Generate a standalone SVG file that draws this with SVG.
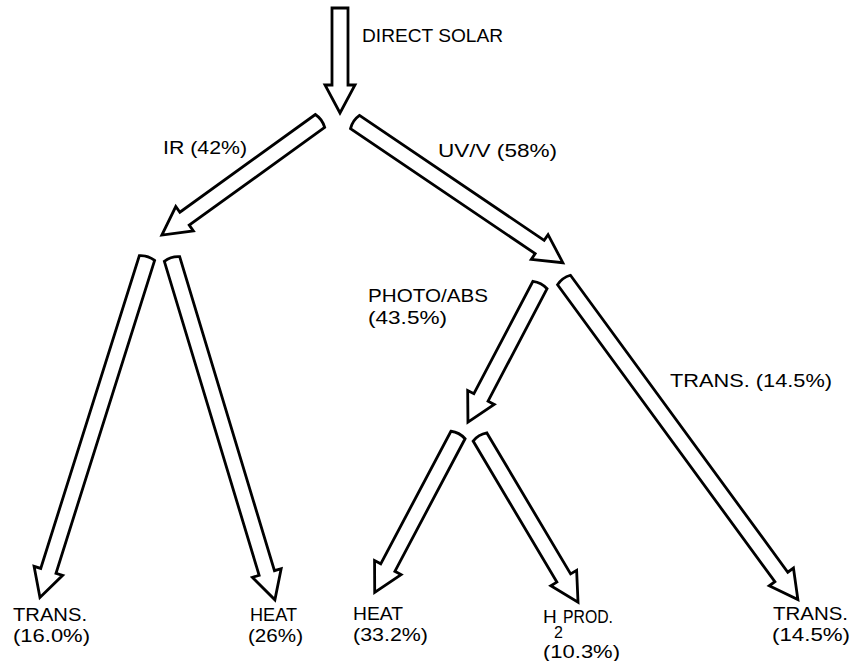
<svg xmlns="http://www.w3.org/2000/svg" width="850" height="661" viewBox="0 0 850 661">
<style>
.a{fill:#fff;stroke:#000;stroke-width:2.8;stroke-linejoin:miter}
text{font-family:"Liberation Sans",Arial,sans-serif;font-size:19px;fill:#000}
text.s{font-size:16px}
</style>
<rect width="850" height="661" fill="#fff"/>
<g id="connectors">
<path id="a-direct" class="a" transform="translate(340,8) rotate(90)" d="M0,-8 L77,-8 L77,-15 L105,0 L77,15 L77,8 L0,8 Z"/>
<path id="a-ir" class="a" transform="translate(320,121) rotate(144.2)" d="M0,-8 L167,-8 L167,-15 L195,0 L167,15 L167,8 L0,8 Q-3,0 0,-8 Z"/>
<path id="a-uv" class="a" transform="translate(355,122) rotate(34.1)" d="M0,-8 L223,-8 L223,-15 L251,0 L223,15 L223,8 L0,8 Q-3,0 0,-8 Z"/>
<path id="a-ir-trans" class="a" transform="translate(147,258) rotate(107.5)" d="M0,-8 L328,-8 L328,-15 L356,0 L328,15 L328,8 L0,8 Q-3,0 0,-8 Z"/>
<path id="a-ir-heat" class="a" transform="translate(172,259) rotate(73.2)" d="M0,-8 L328,-8 L328,-15 L356,0 L328,15 L328,8 L0,8 Q-3,0 0,-8 Z"/>
<path id="a-photo" class="a" transform="translate(540,285) rotate(117.7)" d="M0,-8 L127,-8 L127,-15 L155,0 L127,15 L127,8 L0,8 Q-3,0 0,-8 Z"/>
<path id="a-uv-trans" class="a" transform="translate(564,280) rotate(53.8)" d="M0,-8 L368,-8 L368,-15 L396,0 L368,15 L368,8 L0,8 Q-3,0 0,-8 Z"/>
<path id="a-photo-heat" class="a" transform="translate(458,435) rotate(117.9)" d="M0,-8 L150,-8 L150,-15 L178,0 L150,15 L150,8 L0,8 Q-3,0 0,-8 Z"/>
<path id="a-h2" class="a" transform="translate(480,437) rotate(59.3)" d="M0,-8 L164,-8 L164,-15 L192,0 L164,15 L164,8 L0,8 Q-3,0 0,-8 Z"/>
</g>
<g id="n-direct"><text x="362" y="42" textLength="141" lengthAdjust="spacingAndGlyphs">DIRECT SOLAR</text></g>
<g id="n-ir"><text x="163" y="154" textLength="84" lengthAdjust="spacingAndGlyphs">IR (42%)</text></g>
<g id="n-uv"><text x="438" y="157" textLength="119" lengthAdjust="spacingAndGlyphs">UV/V (58%)</text></g>
<g id="n-photo"><text x="368" y="302" textLength="120" lengthAdjust="spacingAndGlyphs">PHOTO/ABS</text><text x="368" y="324" textLength="79" lengthAdjust="spacingAndGlyphs">(43.5%)</text></g>
<g id="n-trans-mid"><text x="670" y="387" textLength="162" lengthAdjust="spacingAndGlyphs">TRANS. (14.5%)</text></g>
<g id="n-trans-left"><text x="13" y="621" textLength="74" lengthAdjust="spacingAndGlyphs">TRANS.</text><text x="13" y="642" textLength="77" lengthAdjust="spacingAndGlyphs">(16.0%)</text></g>
<g id="n-heat-ir"><text x="250" y="621" textLength="47" lengthAdjust="spacingAndGlyphs">HEAT</text><text x="248" y="642" textLength="55" lengthAdjust="spacingAndGlyphs">(26%)</text></g>
<g id="n-heat-photo"><text x="353" y="620" textLength="50" lengthAdjust="spacingAndGlyphs">HEAT</text><text x="353" y="641" textLength="75" lengthAdjust="spacingAndGlyphs">(33.2%)</text></g>
<g id="n-h2"><text x="543" y="623">H</text><text class="s" x="554" y="638">2</text><text x="563" y="623" textLength="50" lengthAdjust="spacingAndGlyphs">PROD.</text><text x="543" y="658" textLength="77" lengthAdjust="spacingAndGlyphs">(10.3%)</text></g>
<g id="n-trans-right"><text x="773" y="620" textLength="75" lengthAdjust="spacingAndGlyphs">TRANS.</text><text x="772" y="641" textLength="78" lengthAdjust="spacingAndGlyphs">(14.5%)</text></g>
</svg>
